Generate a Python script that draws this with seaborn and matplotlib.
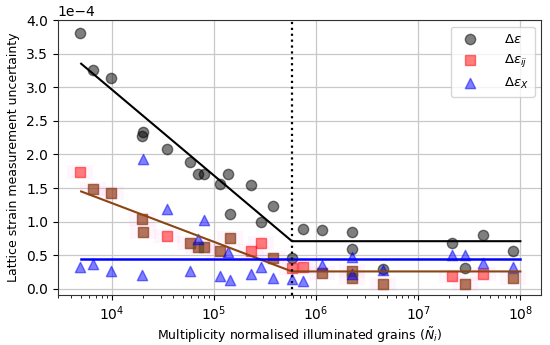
import numpy as np
import pandas as pd
import seaborn as sns
import matplotlib.pyplot as plt
from matplotlib.ticker import ScalarFormatter

# Delta epsilon (circles)
eps_x = [4.87e3, 6.58e3, 9.78e3, 1.95e4, 2.02e4, 3.49e4, 5.86e4, 6.9e4, 8.02e4,
         1.156e5, 1.38e5, 1.45e5, 2.3e5, 2.89e5, 3.75e5, 5.8e5, 7.52e5, 1.15e6,
         2.26e6, 2.26e6, 4.54e6, 2.14e7, 2.84e7, 4.28e7, 8.55e7]
eps_y = [3.81, 3.26, 3.13, 2.27, 2.33, 2.08, 1.89, 1.71, 1.71,
         1.56, 1.71, 1.11, 1.55, 1.00, 1.23, 0.46, 0.89, 0.87,
         0.85, 0.59, 0.30, 0.69, 0.31, 0.80, 0.57]

# Delta epsilon_ij (squares)
ij_x = [4.87e3, 6.58e3, 9.78e3, 1.95e4, 2.02e4, 3.49e4, 5.86e4, 6.9e4, 8.02e4,
        1.156e5, 1.45e5, 2.3e5, 2.89e5, 3.75e5, 5.8e5, 7.52e5, 1.15e6,
        2.26e6, 2.26e6, 4.54e6, 2.14e7, 2.84e7, 4.28e7, 8.55e7]
ij_y = [1.74, 1.48, 1.43, 1.04, 0.85, 0.79, 0.69, 0.62, 0.62,
        0.57, 0.76, 0.57, 0.68, 0.46, 0.31, 0.32, 0.23,
        0.26, 0.16, 0.08, 0.19, 0.08, 0.22, 0.16]
# squares that show darker (overlapping components)
ij_dark = [0, 1, 1, 1, 1, 0, 1, 1, 1,
           1, 1, 0, 0, 1, 0, 0, 1,
           1, 1, 1, 0, 1, 0, 1]

# Delta epsilon_X (triangles)
x_x = [4.87e3, 6.58e3, 9.78e3, 1.95e4, 2.02e4, 3.49e4, 5.86e4, 6.9e4, 8.02e4,
       1.156e5, 1.38e5, 1.45e5, 2.3e5, 2.89e5, 3.75e5, 5.8e5, 7.52e5, 1.15e6,
       2.26e6, 2.26e6, 4.54e6, 2.14e7, 2.84e7, 4.28e7, 8.55e7]
x_y = [0.33, 0.37, 0.27, 0.21, 1.94, 1.19, 0.26, 0.75, 1.03,
       0.19, 0.55, 0.14, 0.22, 0.33, 0.16, 0.15, 0.12, 0.35,
       0.47, 0.22, 0.28, 0.51, 0.51, 0.38, 0.33]

# piecewise fits
fit_x = [5e3, 5.8e5, 1e8]
fit_eps = [3.35, 0.71, 0.71]
fit_ij = [1.45, 0.26, 0.26]
fit_X = [0.446, 0.446, 0.446]
knee = 5.8e5

scale = 1e-4

plt.rcParams['font.size'] = 9
plt.rcParams['xtick.labelsize'] = 10
plt.rcParams['ytick.labelsize'] = 10
plt.rcParams['legend.fontsize'] = 9.5

fig = plt.figure(figsize=(5.5, 3.45), dpi=100)
ax = fig.add_axes([0.105, 0.145, 0.879, 0.797])
ax.set_xscale('log')
ax.grid(True, which='major', color='#c8c8c8', lw=0.9, zorder=0)
ax.set_axisbelow(True)

df_ij = pd.DataFrame({'x': ij_x, 'y': np.array(ij_y) * scale, 'dark': ij_dark})

# pink haze behind squares
haze = [(-1.9, -1), (1.9, -1), (1.9, 1), (-1.9, 1), (-1.9, -1)]
ax.scatter(df_ij['x'], df_ij['y'], marker=haze, s=330, color='#ff77ee',
           alpha=0.07, linewidths=0, zorder=1)

sns.scatterplot(x=np.array(eps_x), y=np.array(eps_y) * scale, marker='o', color='k',
                alpha=0.5, s=55, edgecolor='k', linewidth=1, ax=ax, zorder=3,
                label=r'$\Delta\varepsilon$')
sns.scatterplot(data=df_ij, x='x', y='y', marker='s', color='r', alpha=0.5, s=50,
                edgecolor='r', linewidth=1, ax=ax, zorder=3,
                label=r'$\Delta\varepsilon_{ij}$')
dk = df_ij[df_ij['dark'] == 1]
ax.scatter(dk['x'], dk['y'], marker='s', color='#3a6a28', alpha=0.38, s=50,
           linewidths=1, zorder=3)
sns.scatterplot(x=np.array(x_x), y=np.array(x_y) * scale, marker='^', color='b',
                alpha=0.5, s=55, edgecolor='b', linewidth=1, ax=ax, zorder=3,
                label=r'$\Delta\varepsilon_{X}$')

ax.plot(fit_x, np.array(fit_eps) * scale, color='k', lw=1.5, zorder=4)
ax.plot(fit_x, np.array(fit_ij) * scale, color='saddlebrown', lw=1.5, zorder=4)
ax.plot(fit_x, np.array(fit_X) * scale, color='b', lw=1.8, zorder=4)
ax.axvline(knee, color='k', ls=':', lw=1.6, zorder=4)

ax.set_xlim(2.95e3, 1.6e8)
ax.set_ylim(-0.09e-4, 4.0e-4)
ax.set_yticks(np.arange(0, 4.01, 0.5) * scale)
fmt = ScalarFormatter(useMathText=False)
fmt.set_powerlimits((0, 0))
ax.yaxis.set_major_formatter(fmt)
ax.yaxis.get_offset_text().set_fontsize(10)

for s in ax.spines.values():
    s.set_color('#333333')

ax.set_xlabel(r'Multiplicity normalised illuminated grains ($\tilde{N}_i$)', labelpad=1.5)
ax.set_ylabel('Lattice strain measurement uncertainty')
ax.legend(loc='upper right', handletextpad=1.6, borderpad=0.45, labelspacing=0.5)

fig.savefig('out.png', dpi=100)
